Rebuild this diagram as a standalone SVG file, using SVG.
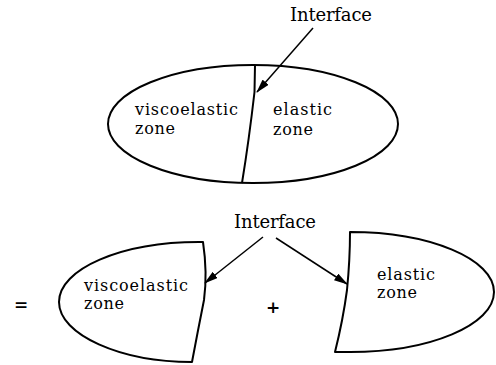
<svg xmlns="http://www.w3.org/2000/svg" width="496" height="365" viewBox="0 0 496 365">
<style>
.shape{fill:none;stroke:#000;stroke-width:2;stroke-linejoin:round}
.arrow{fill:none;stroke:#000;stroke-width:1.5}
text{font-family:"DejaVu Serif","Liberation Serif",serif;font-size:16px;fill:#000}
.lbl{font-size:18px}
.op{font-size:17px;font-weight:bold}
</style>
<defs>
<marker id="ah" markerWidth="14" markerHeight="8" refX="13" refY="4" orient="auto" markerUnits="userSpaceOnUse">
<path d="M0,0 L14,4 L0,8 Z" fill="#000"/>
</marker>
</defs>
<rect width="496" height="365" fill="#fff"/>
<g id="whole">
<ellipse class="shape" cx="253" cy="124" rx="145" ry="59"/>
<path class="shape" d="M255,65 L254.5,92 Q249,140 242,183"/>
<text x="135" y="115" textLength="103">viscoelastic</text>
<text x="135" y="134" textLength="40">zone</text>
<text x="273" y="115" textLength="59">elastic</text>
<text x="273" y="135" textLength="40">zone</text>
</g>
<g id="interface-top">
<text class="lbl" x="290" y="21" textLength="82">Interface</text>
</g>
<g id="viscoelastic-part">
<path class="shape" d="M203,242 L199,242 C121,242 59,269 59,302 C59,335 121,362 192,362 Q198,330 204,300 C206,285 206,262 203,242 Z"/>
<text x="84" y="291" textLength="104">viscoelastic</text>
<text x="84" y="309" textLength="40">zone</text>
</g>
<g id="elastic-part">
<path class="shape" d="M350,232 C430,232 494,259 494,292 C494,325 430,352 350,352 L335,352 Q343,320 347,290 C349,270 350,250 350,232 Z"/>
<text x="377" y="280" textLength="58">elastic</text>
<text x="377" y="298" textLength="40">zone</text>
</g>
<g id="interface-bottom">
<text class="lbl" x="234" y="228" textLength="82">Interface</text>
</g>
<g id="equals"><text class="op" x="14" y="310">=</text></g>
<g id="plus"><text class="op" x="273" y="313" text-anchor="middle">+</text></g>
<g id="connectors">
<line class="arrow" x1="313" y1="28" x2="257" y2="92" marker-end="url(#ah)"/>
<line class="arrow" x1="263" y1="237" x2="205" y2="283" marker-end="url(#ah)"/>
<line class="arrow" x1="276" y1="238" x2="347" y2="284" marker-end="url(#ah)"/>
</g>
</svg>
